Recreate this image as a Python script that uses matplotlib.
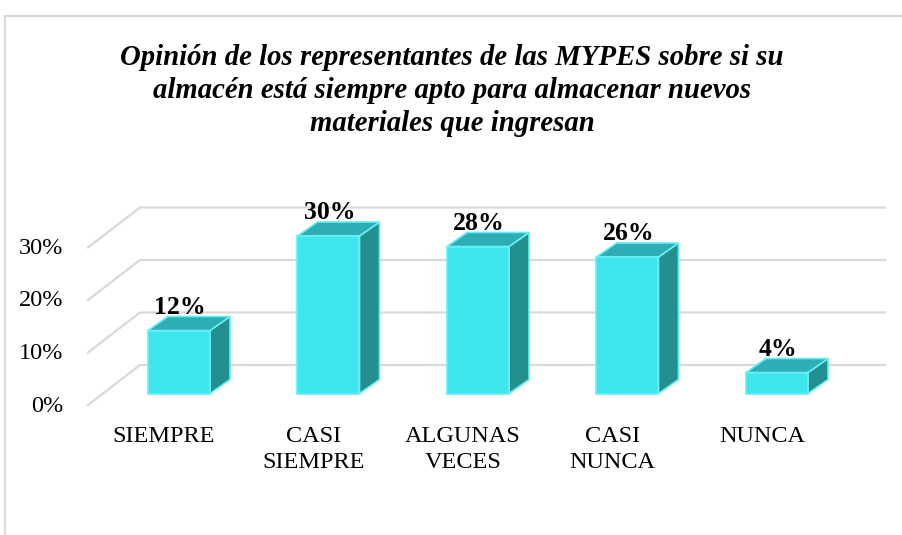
import matplotlib.pyplot as plt
from matplotlib.patches import Polygon

categories = ["SIEMPRE", "CASI\nSIEMPRE", "ALGUNAS\nVECES", "CASI\nNUNCA", "NUNCA"]
values = [12, 30, 28, 26, 4]
value_labels = ["12%", "30%", "28%", "26%", "4%"]
ticks = [0, 10, 20, 30]
tick_labels = ["0%", "10%", "20%", "30%"]
title = ("Opinión de los representantes de las MYPES sobre si su\n"
         "almacén está siempre apto para almacenar nuevos\n"
         "materiales que ingresan")

W, H = 903, 535
FRONT_FACE = "#3ee5ed"
TOP_FACE = "#2eadb4"
SIDE_FACE = "#22908f"
EDGE = "#66eef4"
GRID = "#d9d9d9"

# pixel geometry of the fake 3-D box (screen coordinates, y grows downward)
PX_PER_PCT = 5.25
FLOOR_FRONT = (88, 405)      # front-left corner of the 0% line
WALL_SHIFT = (52, -40)       # front -> back wall offset
WALL_RIGHT = 885
BAR_BASE = 393.5
BAR_X0, BAR_STEP, BAR_W = 148, 149.5, 62
BAR_DEPTH = (20, -14)

plt.rcParams["font.family"] = ["Liberation Serif", "DejaVu Serif"]

fig = plt.figure(figsize=(W / 100, H / 100), dpi=100)
ax = fig.add_axes([0, 0, 1, 1])
ax.set_xlim(0, W)
ax.set_ylim(H, 0)
ax.axis("off")

# chart area border (cropped on the right and bottom)
ax.plot([5.5, 5.5, W + 5], [H + 5, 15.5, 15.5], color=GRID, lw=1.5)

# gridlines: diagonal on the left side wall, then along the back wall
for t, lab in zip(ticks, tick_labels):
    fx, fy = FLOOR_FRONT[0], FLOOR_FRONT[1] - t * PX_PER_PCT
    bx, by = fx + WALL_SHIFT[0], fy + WALL_SHIFT[1]
    ax.plot([fx, bx, WALL_RIGHT], [fy, by, by], color=GRID, lw=1.6,
            solid_joinstyle="miter", zorder=1)
    ax.text(63, fy + 1, lab, ha="right", va="center", fontsize=17.5)

# bars
dx, dy = BAR_DEPTH
for i, (v, lab, cat) in enumerate(zip(values, value_labels, categories)):
    x0 = BAR_X0 + i * BAR_STEP
    x1 = x0 + BAR_W
    y0 = BAR_BASE
    y1 = BAR_BASE - v * PX_PER_PCT
    front = [(x0, y0), (x1, y0), (x1, y1), (x0, y1)]
    top = [(x0, y1), (x1, y1), (x1 + dx, y1 + dy), (x0 + dx, y1 + dy)]
    side = [(x1, y0), (x1 + dx, y0 + dy), (x1 + dx, y1 + dy), (x1, y1)]
    for pts, fc in ((side, SIDE_FACE), (top, TOP_FACE), (front, FRONT_FACE)):
        ax.add_patch(Polygon(pts, closed=True, facecolor=fc, edgecolor=EDGE,
                             lw=1.2, joinstyle="miter", zorder=3))
    ax.text((x0 + x1) / 2 + 1, y1 + dy + 2, lab, ha="center", va="bottom",
            fontsize=18.5, fontweight="bold", zorder=4)
    ax.text((x0 + x1) / 2 - 15, 426, cat, ha="center", va="top",
            fontsize=17.5, linespacing=1.3)

ax.text(452, 44, title, ha="center", va="top", fontsize=20.7,
        fontweight="bold", fontstyle="italic", linespacing=1.28)

fig.savefig("out.png", dpi=100)
